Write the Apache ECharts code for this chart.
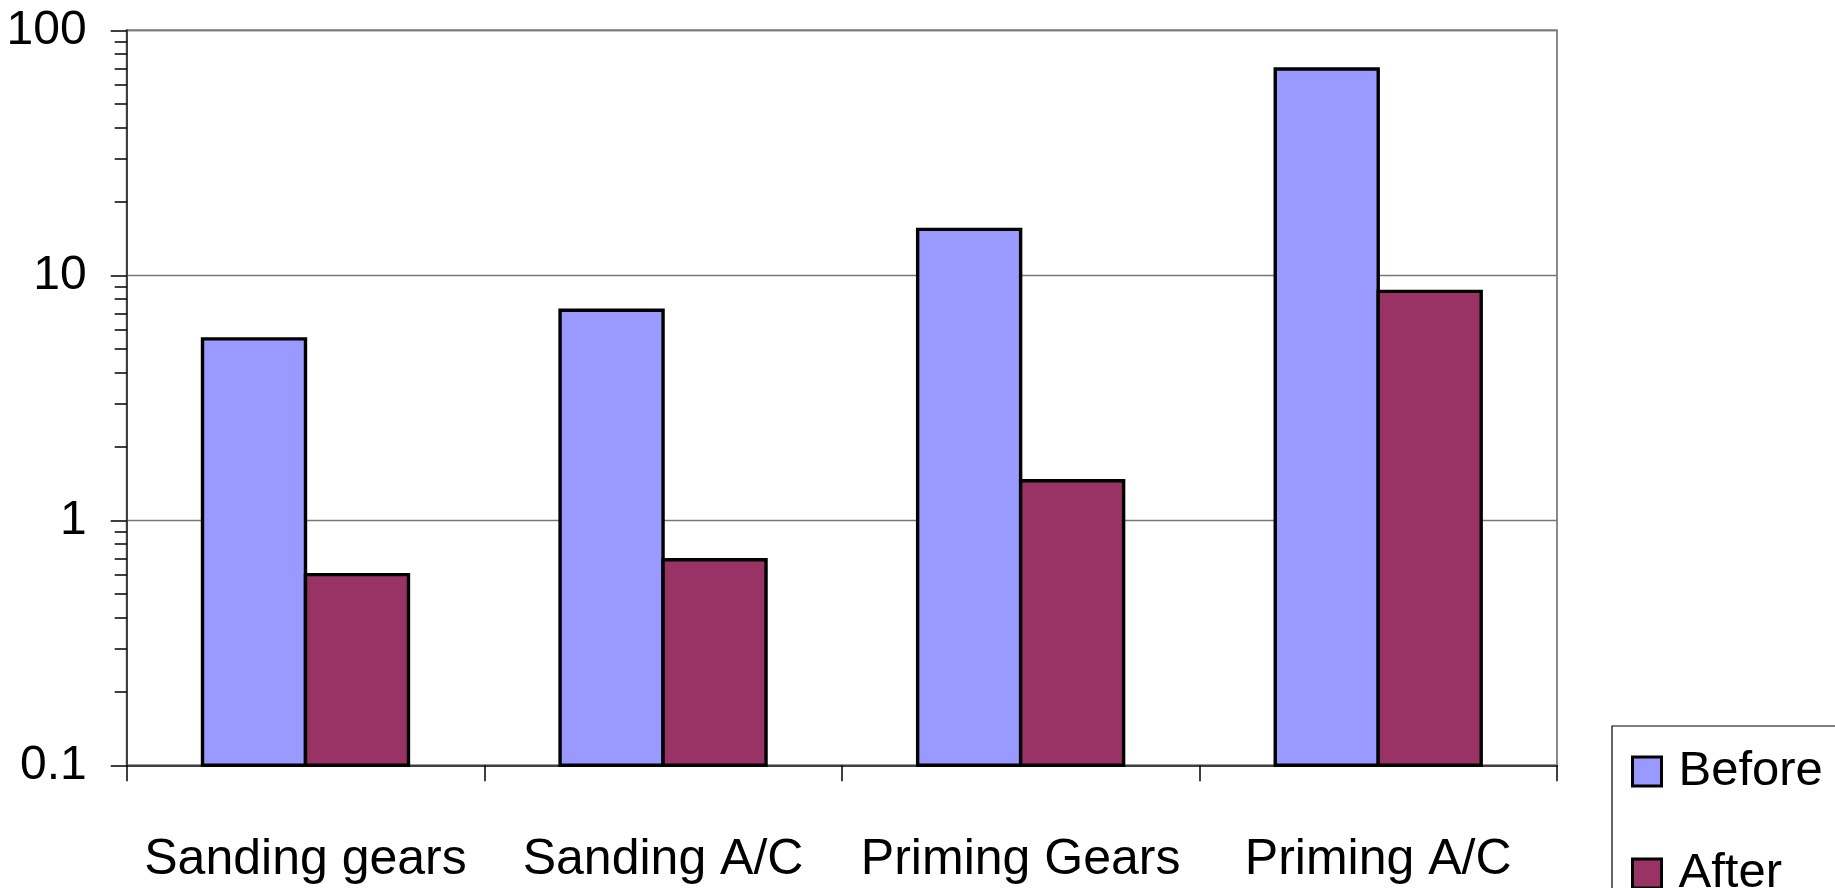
<!DOCTYPE html>
<html>
<head>
<meta charset="utf-8">
<script src="https://cdn.jsdelivr.net/npm/echarts@6/dist/echarts.min.js"></script>
<style>
html,body{margin:0;padding:0;background:#fff;}
#chart{width:1835px;height:888px;}
</style>
</head>
<body>
<div id="chart"></div>
<script>
const categories = ['Sanding gears', 'Sanding A/C', 'Priming Gears', 'Priming A/C'];
const beforeValues = [5.5, 7.2, 15.4, 69.5];
const afterValues = [0.60, 0.69, 1.45, 8.6];
const yTickLabels = ['0.1', '1', '10', '100'];
const decades = [0.1, 1, 10];
const minorMultipliers = [2, 3, 4, 5, 6, 7, 8, 9];
const AXIS_MIN = 0.1, AXIS_MAX = 100;

const minorTickValues = [];
decades.forEach(d => minorMultipliers.forEach(m => minorTickValues.push(+(d * m).toPrecision(3))));

const FONT = '"Liberation Sans", Arial, sans-serif';
const BEFORE_COLOR = '#9999FF', AFTER_COLOR = '#993366';
const BAR_FRACTION = 0.288;

function makeRender(side, color) {
  return function (params, api) {
    const idx = api.value(0), val = api.value(1);
    const top = api.coord([idx, val]);
    const base = api.coord([idx, AXIS_MIN]);
    const band = api.size([1, 1])[0];
    const w = band * BAR_FRACTION;
    const x = side === 0 ? top[0] - w : top[0];
    return {
      type: 'rect',
      shape: {x: x, y: top[1], width: w, height: base[1] - top[1]},
      style: {fill: color, stroke: '#000', lineWidth: 3.4}
    };
  };
}

const chart = echarts.init(document.getElementById('chart'), null, {renderer: 'canvas'});

const option = {
  backgroundColor: '#ffffff',
  animation: false,
  grid: {
    left: 126.7, right: 278, top: 30.3, bottom: 122.7,
    containLabel: false,
    outerBoundsMode: 'none',
    show: true, borderColor: '#8a8a8a', borderWidth: 2, backgroundColor: 'transparent'
  },
  legend: {
    orient: 'vertical',
    left: 1612, top: 726,
    height: 300,
    padding: [21, 13, 21, 19],
    itemGap: 53,
    itemWidth: 29, itemHeight: 29,
    icon: 'rect',
    borderColor: '#000', borderWidth: 1.2,
    backgroundColor: '#fff',
    textStyle: {fontFamily: FONT, fontSize: 49, color: '#000', lineHeight: 48, padding: [0, 0, 0, 12]},
    itemStyle: {borderColor: '#000', borderWidth: 3},
    data: ['Before', 'After']
  },
  xAxis: {
    type: 'category',
    data: categories,
    axisLine: {show: true, lineStyle: {color: '#404040', width: 2}},
    axisTick: {show: true, inside: false, length: 16, alignWithLabel: false, lineStyle: {color: '#000', width: 1.5}},
    axisLabel: {fontFamily: FONT, fontSize: 50, color: '#000', margin: 70, interval: 0},
    splitLine: {show: false}
  },
  yAxis: [{
    type: 'log',
    logBase: 10,
    min: AXIS_MIN, max: AXIS_MAX,
    axisLine: {show: true, lineStyle: {color: '#404040', width: 2}},
    axisTick: {show: true, inside: false, length: 16, lineStyle: {color: '#000', width: 1.5}},
    axisLabel: {
      fontFamily: FONT, fontSize: 48, color: '#000', margin: 40,
      formatter: function (v) {
        const idx = Math.round(Math.log10(v)) + 1;
        return yTickLabels[idx] !== undefined ? yTickLabels[idx] : '';
      }
    },
    splitLine: {show: true, lineStyle: {color: '#777', width: 1.3}},
    minorTick: {show: false}
  }, {
    type: 'log',
    logBase: 10,
    min: AXIS_MIN, max: AXIS_MAX,
    position: 'left',
    axisLine: {show: false},
    axisLabel: {show: false},
    splitLine: {show: false},
    axisTick: {show: true, inside: false, length: 12, customValues: minorTickValues, lineStyle: {color: '#000', width: 1.5}}
  }],
  series: [{
    name: 'Before',
    type: 'custom',
    data: beforeValues.map((v, i) => [i, v]),
    encode: {x: 0, y: 1},
    renderItem: makeRender(0, BEFORE_COLOR),
    itemStyle: {color: BEFORE_COLOR, borderColor: '#000', borderWidth: 3}
  }, {
    name: 'After',
    type: 'custom',
    data: afterValues.map((v, i) => [i, v]),
    encode: {x: 0, y: 1},
    renderItem: makeRender(1, AFTER_COLOR),
    itemStyle: {color: AFTER_COLOR, borderColor: '#000', borderWidth: 3}
  }]
};
chart.setOption(option);
</script>
</body>
</html>
